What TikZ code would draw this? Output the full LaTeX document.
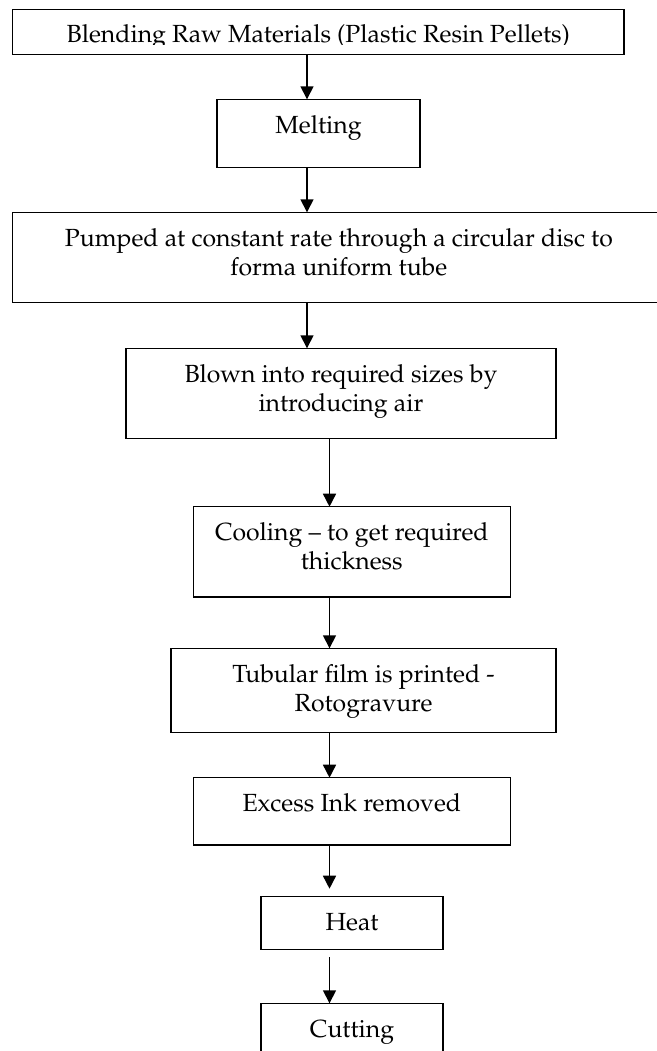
\documentclass[tikz,border=0pt]{standalone}
\usepackage[T1]{fontenc}
\usepackage{mathpazo}
\usetikzlibrary{arrows.meta,fit}
\tikzset{
  stage/.style={draw, line width=0.75pt, inner sep=0pt, outer sep=0pt},
  caption/.style={anchor=base, inner sep=0pt, font=\fontsize{12.4}{14.5}\selectfont},
  flow/.style={line width=0.75pt, -{Triangle[width=6.5pt,length=6.5pt]}}
}
\newcommand{\twolines}[1]{\begin{tabular}[t]{@{}c@{}}#1\end{tabular}}
\begin{document}
\begin{tikzpicture}[x=0.5pt, y=-0.5pt]
\useasboundingbox (0,0) rectangle (657,1051);
\node[stage, fit={(12.7,9.3) (624,54.3)}] (blend) {};
\node[stage, fit={(217,99.3) (420,167.3)}] (melt) {};
\node[stage, fit={(12.7,212.3) (665,302.7)}] (pump) {};
\node[stage, fit={(125.8,348.3) (556,438.3)}] (blow) {};
\node[stage, fit={(193.3,506.7) (510.3,597)}] (cool) {};
\node[stage, fit={(171,648.3) (556,732.3)}] (print) {};
\node[stage, fit={(193.3,777.7) (510.3,845)}] (ink) {};
\node[stage, fit={(261,896.7) (443,949.3)}] (heat) {};
\node[stage, fit={(261,1003.3) (443,1070)}] (cut) {};
\begin{scope}
\clip (blend.north west) rectangle ([yshift=-17.4pt]blend.north east);
\node[caption] (blendT) at ([yshift=-16.8pt]blend.north) {Blending Raw Materials (Plastic Resin Pellets)};
\end{scope}
\node[caption] (meltT) at ([yshift=-17pt]melt.north) {Melting};
\node[caption] (pumpT) at ([yshift=-17pt]pump.north) {\twolines{Pumped at constant rate through a circular disc to\\forma uniform tube}};
\node[caption] (blowT) at ([yshift=-17pt]blow.north) {\twolines{Blown into required sizes by\\introducing air}};
\node[caption] (coolT) at ([yshift=-17pt]cool.north) {\twolines{Cooling -- to get required\\thickness}};
\node[caption] (printT) at ([yshift=-17pt]print.north) {\twolines{Tubular film is printed -\\Rotogravure}};
\node[caption] (inkT) at ([yshift=-17pt]ink.north) {Excess Ink removed};
\node[caption] (heatT) at ([yshift=-17pt]heat.north) {Heat};
\node[caption] (cutT) at ([yshift=-17pt]cut.north) {Cutting};
\coordinate (spine) at (307,0);
\coordinate (spineB) at (329.5,0);
\draw[flow] (blend.south -| spine) -- (melt.north -| spine);
\draw[flow] (melt.south -| spine) -- (pump.north -| spine);
\draw[flow] (pump.south -| spine) -- (blow.north -| spine);
\draw[flow] (blow.south -| spineB) -- (cool.north -| spineB);
\draw[flow] (cool.south -| spineB) -- (print.north -| spineB);
\draw[flow] (print.south -| spineB) -- (ink.north -| spineB);
\draw[flow, shorten >=4pt] (ink.south -| spineB) -- (heat.north -| spineB);
\draw[flow, shorten <=4pt] (heat.south -| spineB) -- (cut.north -| spineB);
\end{tikzpicture}
\end{document}
